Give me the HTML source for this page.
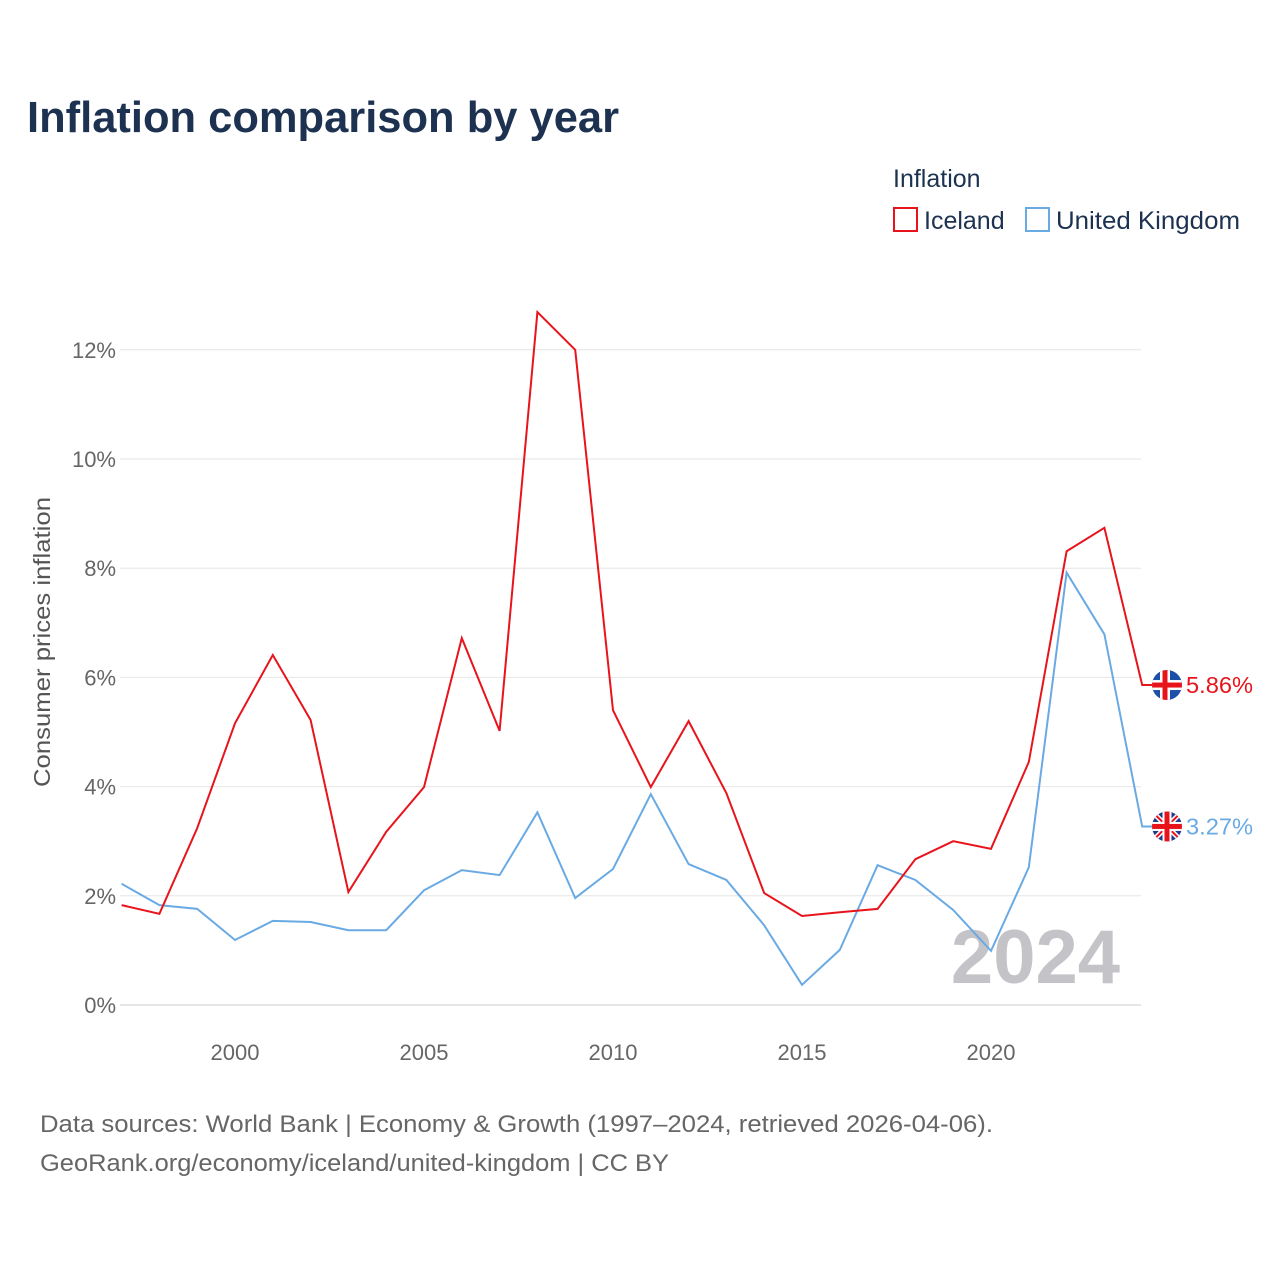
<!DOCTYPE html>
<html><head><meta charset="utf-8">
<style>
body{margin:0;background:#fff;font-family:"Liberation Sans",sans-serif;}
svg text{font-family:"Liberation Sans",sans-serif;}
</style></head>
<body>
<svg id="chart" width="1280" height="1280" viewBox="0 0 1280 1280" xmlns="http://www.w3.org/2000/svg">
<rect width="1280" height="1280" fill="#fff"/>
<text x="27" y="132" font-size="44" font-weight="bold" fill="#1c3250" textLength="592" lengthAdjust="spacingAndGlyphs">Inflation comparison by year</text>
<text x="893" y="187" font-size="25" fill="#1c3250">Inflation</text>
<g>
<rect x="894" y="208" width="23" height="23" fill="none" stroke="#e8141c" stroke-width="2"/>
<text x="924" y="229" font-size="25" fill="#1c3250">Iceland</text></g>
<g>
<rect x="1026" y="208" width="23" height="23" fill="none" stroke="#6aaae4" stroke-width="2"/>
<text x="1056" y="229" font-size="25" fill="#1c3250" textLength="184" lengthAdjust="spacingAndGlyphs">United Kingdom</text></g>
<g id="grid"></g><g id="yticks"></g><g id="xticks"></g>
<text x="1120" y="983" font-size="76" font-weight="bold" fill="#c4c4c8" text-anchor="end">2024</text>
<g id="lines"></g>
<text transform="translate(50,642) rotate(-90)" font-size="23" fill="#555" text-anchor="middle" textLength="290" lengthAdjust="spacingAndGlyphs">Consumer prices inflation</text>
<text x="40" y="1132" font-size="24" fill="#666" textLength="953" lengthAdjust="spacingAndGlyphs">Data sources: World Bank | Economy &amp; Growth (1997–2024, retrieved 2026-04-06).</text>
<text x="40" y="1171" font-size="24" fill="#666" textLength="629" lengthAdjust="spacingAndGlyphs">GeoRank.org/economy/iceland/united-kingdom | CC BY</text>
</svg>
<script>
const years=[1997,1998,1999,2000,2001,2002,2003,2004,2005,2006,2007,2008,2009,2010,2011,2012,2013,2014,2015,2016,2017,2018,2019,2020,2021,2022,2023,2024];
const iceland=[1.83,1.67,3.24,5.16,6.41,5.22,2.07,3.17,3.99,6.72,5.02,12.69,12.0,5.40,3.99,5.20,3.88,2.05,1.63,1.70,1.76,2.67,3.0,2.86,4.45,8.31,8.74,5.86];
const uk=[2.22,1.83,1.76,1.19,1.54,1.52,1.37,1.37,2.10,2.47,2.38,3.53,1.96,2.49,3.86,2.58,2.29,1.46,0.37,1.01,2.56,2.29,1.74,0.99,2.52,7.92,6.79,3.27];
const yTicks=[0,2,4,6,8,10,12];
const xTicks=[2000,2005,2010,2015,2020];
const NS="http://www.w3.org/2000/svg";
const X=y=>121.6+(y-1997)*37.8;
const Y=v=>1005-v*54.6;
function mk(tag,attrs,parent){const e=document.createElementNS(NS,tag);for(const k in attrs)e.setAttribute(k,attrs[k]);document.getElementById(parent).appendChild(e);return e;}
yTicks.forEach(t=>{
 const l=mk('line',{x1:120,x2:1141,y1:Y(t),y2:Y(t),stroke:t===0?'#ccc':'#e6e6e6','stroke-width':1},'grid');
 
 
 const tx=mk('text',{x:116,y:Y(t)+8,'font-size':22,fill:'#666','text-anchor':'end'},'yticks');
 tx.textContent=t+'%';
 
 
});
xTicks.forEach(t=>{
 const tx=mk('text',{x:X(t),y:1060,'font-size':22,fill:'#666','text-anchor':'middle'},'xticks');
 tx.textContent=t;
 
 
});
function series(vals,color,name){
 let d=vals.map((v,i)=>(i?'L':'M')+X(years[i]).toFixed(1)+','+Y(v).toFixed(1)).join(' ');
 d+=' L'+(X(years[years.length-1])+12)+','+Y(vals[vals.length-1]).toFixed(1);
 const p=mk('path',{d:d,fill:'none',stroke:color,'stroke-width':2},'lines');
 
 
}
series(uk,'#6aaae4','uk');
series(iceland,'#e8141c','iceland');
function endLabel(vals,color,name,flag){
 const v=vals[vals.length-1];const cx=1167,cy=Y(v);
 const g=mk('g',{},'lines');
 
 
 g.innerHTML=flag(cx,cy)+`<text x="1186" y="${cy+8}" font-size="23" fill="${color}" textLength="67" lengthAdjust="spacingAndGlyphs">${v.toFixed(2)}%</text>`;
}
endLabel(iceland,'#e8141c','iceland',(x,y)=>`<clipPath id="ci"><circle cx="${x}" cy="${y}" r="15"/></clipPath><g clip-path="url(#ci)"><rect x="${x-15}" y="${y-15}" width="30" height="30" fill="#1e4fa8"/><rect x="${x-15}" y="${y-5}" width="30" height="10" fill="#fff"/><rect x="${x-7}" y="${y-15}" width="10" height="30" fill="#fff"/><rect x="${x-15}" y="${y-2.5}" width="30" height="5" fill="#e8141c"/><rect x="${x-4.5}" y="${y-15}" width="5" height="30" fill="#e8141c"/></g>`);
endLabel(uk,'#6aaae4','uk',(x,y)=>`<clipPath id="cu"><circle cx="${x}" cy="${y}" r="15"/></clipPath><g clip-path="url(#cu)"><rect x="${x-15}" y="${y-15}" width="30" height="30" fill="#1e3a8a"/><line x1="${x-15}" y1="${y-15}" x2="${x+15}" y2="${y+15}" stroke="#fff" stroke-width="5"/><line x1="${x+15}" y1="${y-15}" x2="${x-15}" y2="${y+15}" stroke="#fff" stroke-width="5"/><line x1="${x-15}" y1="${y-15}" x2="${x+15}" y2="${y+15}" stroke="#e8141c" stroke-width="2"/><line x1="${x+15}" y1="${y-15}" x2="${x-15}" y2="${y+15}" stroke="#e8141c" stroke-width="2"/><rect x="${x-15}" y="${y-4.5}" width="30" height="9" fill="#fff"/><rect x="${x-4.5}" y="${y-15}" width="9" height="30" fill="#fff"/><rect x="${x-15}" y="${y-2.5}" width="30" height="5" fill="#e8141c"/><rect x="${x-2.5}" y="${y-15}" width="5" height="30" fill="#e8141c"/></g>`);
</script>
</body></html>
